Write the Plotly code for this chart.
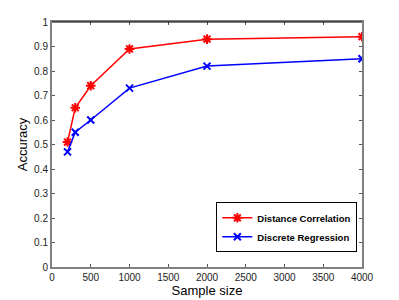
import plotly.graph_objects as go

sample_size = [200, 300, 500, 1000, 2000, 4000]
dist_corr = [0.51, 0.65, 0.74, 0.89, 0.93, 0.94]
disc_reg = [0.47, 0.55, 0.60, 0.73, 0.82, 0.85]
y_ticks = [0, 0.1, 0.2, 0.3, 0.4, 0.5, 0.6, 0.7, 0.8, 0.9, 1]
y_tick_labels = ["0", "0.1", "0.2", "0.3", "0.4", "0.5", "0.6", "0.7", "0.8", "0.9", "1"]
x_ticks = [0, 500, 1000, 1500, 2000, 2500, 3000, 3500, 4000]

fig = go.Figure()
fig.add_trace(go.Scatter(x=sample_size, y=dist_corr, mode="lines+markers",
                         name="<b>Distance Correlation</b>",
                         line=dict(color="#ff0000", width=1.5),
                         marker=dict(symbol="asterisk-open", size=8,
                                     line=dict(color="#ff0000", width=2))))
fig.add_trace(go.Scatter(x=sample_size, y=disc_reg, mode="lines+markers",
                         name="<b>Discrete Regression</b>",
                         line=dict(color="#0000ff", width=1.5),
                         marker=dict(symbol="x-thin-open", size=7,
                                     line=dict(color="#0000ff", width=2))))

axis_common = dict(showgrid=False, zeroline=False, ticks="inside", ticklen=3,
                   tickcolor="#555", showline=True, linecolor="#808080",
                   linewidth=2, mirror="ticks", automargin=False,
                   tickfont=dict(family="Liberation Sans, Arial", size=10, color="#222"))

fig.update_layout(
    width=391, height=292,
    margin=dict(l=44, r=37, t=14, b=33),
    paper_bgcolor="white", plot_bgcolor="white",
    xaxis=dict(range=[0, 4000], tickvals=x_ticks,
               title=dict(text="Sample size", standoff=2,
                          font=dict(family="Liberation Sans, Arial", size=13, color="#000")),
               **axis_common),
    yaxis=dict(range=[0, 1], tickvals=y_ticks, ticktext=y_tick_labels,
               title=dict(text="Accuracy", standoff=4,
                          font=dict(family="Liberation Sans, Arial", size=13, color="#000")),
               **axis_common),
    legend=dict(x=0.985, y=0.06, xanchor="right", yanchor="bottom",
                bgcolor="white", bordercolor="#000", borderwidth=1,
                font=dict(family="Liberation Sans, Arial", size=9.5, color="#000"),
                tracegroupgap=0, itemwidth=30),
    showlegend=True,
    shapes=[dict(type="line", xref="paper", yref="paper", x0=0, x1=1, y0=1, y1=1,
                 line=dict(color="#000", width=1))],
)

fig.write_html("out.html")
